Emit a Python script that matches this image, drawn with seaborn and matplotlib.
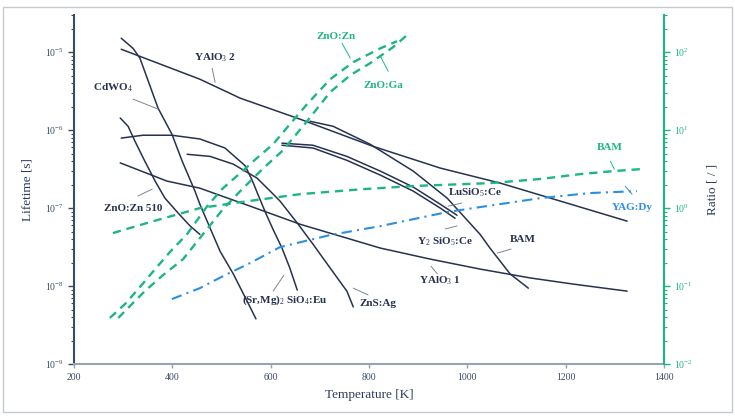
import matplotlib
matplotlib.use("Agg")
import matplotlib.pyplot as plt
import matplotlib.ticker as mticker
import seaborn as sns
import pandas as pd
from matplotlib.patches import Rectangle

# ---------------------------------------------- #
#   DATOS (T en K, tau en s)   #
# ---------------------------------------------- #

# Tiempos de vida (eje izquierdo)
yalo3_2_T = [296, 456, 538, 660, 808, 945, 1067, 1189, 1325]
yalo3_2_tau = [1.09e-5, 4.5e-6, 2.57e-6, 1.38e-6, 6.2e-7, 3.26e-7, 2.09e-7, 1.23e-7, 6.8e-8]

cdwo4_T = [296, 320, 334, 371, 399, 420, 446, 456, 477, 497, 524, 552, 570]
cdwo4_tau = [1.51e-5, 1.12e-5, 8.4e-6, 1.91e-6, 8.9e-7, 4.0e-7, 1.65e-7, 1.12e-7,
             5.5e-8, 2.8e-8, 1.43e-8, 6.4e-9, 3.8e-9]

zno510_T = [294, 310, 324, 344, 365, 385, 412, 436, 456]
zno510_tau = [1.43e-6, 1.12e-6, 7.2e-7, 4.0e-7, 2.22e-7, 1.34e-7, 8.6e-8, 5.9e-8, 4.6e-8]

yalo3_1_T = [294, 389, 456, 558, 660, 823, 924, 1026, 1128, 1215, 1325]
yalo3_1_tau = [3.8e-7, 2.22e-7, 1.8e-7, 1.06e-7, 6.2e-8, 3.07e-8, 2.22e-8, 1.65e-8,
               1.27e-8, 1.06e-8, 8.6e-9]

srmg_T = [296, 340, 399, 456, 507, 548, 562, 576, 590, 605, 623, 639, 654]
srmg_tau = [7.9e-7, 8.6e-7, 8.6e-7, 7.7e-7, 5.9e-7, 3.5e-7, 2.3e-7, 1.4e-7, 8.6e-8,
            5.3e-8, 3.07e-8, 1.7e-8, 8.9e-9]

zns_T = [430, 477, 524, 572, 599, 619, 656, 686, 721, 755, 768]
zns_tau = [4.9e-7, 4.6e-7, 3.66e-7, 2.43e-7, 1.65e-7, 1.23e-7, 6.2e-8, 3.45e-8,
           1.7e-8, 8.6e-9, 5.4e-9]

lusio_T = [623, 686, 755, 823, 890, 945, 979]
lusio_tau = [6.8e-7, 6.4e-7, 4.6e-7, 2.98e-7, 1.86e-7, 1.12e-7, 8.1e-8]

y2sio_T = [623, 686, 755, 823, 890, 945, 975]
y2sio_tau = [6.4e-7, 5.9e-7, 4.1e-7, 2.65e-7, 1.65e-7, 1.0e-7, 7.4e-8]

bam_T = [680, 727, 802, 890, 959, 1026, 1046, 1087, 1124]
bam_tau = [1.3e-6, 1.12e-6, 6.6e-7, 2.98e-7, 1.34e-7, 4.6e-8, 3.07e-8, 1.43e-8, 9.4e-9]

# Cocientes (eje derecho)
znozn_T = [273, 304, 334, 365, 395, 430, 471, 501, 538, 572, 605, 639, 674, 721, 768, 823, 857]
znozn_ratio = [0.039, 0.059, 0.097, 0.165, 0.273, 0.464, 1.06, 1.75, 2.81, 4.38, 6.6,
               11.9, 21.5, 45, 74.5, 112, 138]

znoga_T = [290, 314, 344, 381, 422, 456, 503, 542, 583, 625, 674, 721, 762, 802, 849, 884]
znoga_ratio = [0.039, 0.0555, 0.086, 0.138, 0.222, 0.412, 0.97, 1.75, 3.16, 5.5, 13.0,
               30.7, 50.7, 72, 116, 180]

bam_r_T = [279, 355, 456, 538, 660, 788, 890, 1046, 1148, 1230, 1297, 1352]
bam_ratio = [0.478, 0.662, 1.0, 1.19, 1.51, 1.75, 1.92, 2.09, 2.36, 2.73, 2.98, 3.16]

yag_T = [399, 456, 507, 558, 619, 721, 823, 959, 1026, 1148, 1250, 1345]
yag_ratio = [0.068, 0.094, 0.138, 0.197, 0.316, 0.451, 0.587, 0.889, 1.03, 1.34, 1.56, 1.65]

# ---------------------------------------------- #
#                    ESTILO                       #
# ---------------------------------------------- #
sns.set_style("white")
plt.rcParams["font.family"] = ["Liberation Serif", "DejaVu Serif"]
plt.rcParams["mathtext.fontset"] = "custom"
plt.rcParams["mathtext.rm"] = "Liberation Serif"
plt.rcParams["mathtext.bf"] = "Liberation Serif:bold"

navy = "#26324f"
green = "#1db584"
blue = "#2b8fe3"
leader = "#7d8595"

fig = plt.figure(figsize=(7.35, 4.16), dpi=100)
ax = fig.add_axes([0.1007, 0.125, 0.8027, 0.839])
ax2 = ax.twinx()

# Curvas de tiempo de vida
lifetimes = [
    (yalo3_2_T, yalo3_2_tau), (cdwo4_T, cdwo4_tau), (zno510_T, zno510_tau),
    (yalo3_1_T, yalo3_1_tau), (srmg_T, srmg_tau), (zns_T, zns_tau),
    (lusio_T, lusio_tau), (y2sio_T, y2sio_tau), (bam_T, bam_tau),
]
for T, tau in lifetimes:
    sns.lineplot(x=T, y=tau, ax=ax, color=navy, linewidth=1.1, sort=False)

# Curvas de cociente
for T, r in [(znozn_T, znozn_ratio), (znoga_T, znoga_ratio), (bam_r_T, bam_ratio)]:
    sns.lineplot(x=T, y=r, ax=ax2, color=green, linewidth=1.7, sort=False,
                 linestyle=(0, (3.5, 2.5)))
sns.lineplot(x=yag_T, y=yag_ratio, ax=ax2, color=blue, linewidth=1.5, sort=False,
             linestyle=(0, (5, 2.5, 1, 2.5)))

# Ejes
ax.set_yscale("log")
ax2.set_yscale("log")
ax.set_xlim(200, 1400)
ax.set_ylim(1e-9, 3e-5)
ax2.set_ylim(1e-2, 3e2)
ax.set_xticks([200, 400, 600, 800, 1000, 1200, 1400])
ax.yaxis.set_minor_formatter(mticker.NullFormatter())
ax2.yaxis.set_minor_formatter(mticker.NullFormatter())

for a in (ax, ax2):
    a.spines["top"].set_visible(False)
ax.spines["right"].set_visible(False)
ax2.spines["left"].set_visible(False)
ax2.spines["bottom"].set_visible(False)
ax.spines["left"].set_color("#3b4a68")
ax.spines["bottom"].set_color("#9aa3b3")
ax.spines["left"].set_linewidth(1.5)
ax.spines["bottom"].set_linewidth(1.5)
ax2.spines["right"].set_color(green)
ax2.spines["right"].set_linewidth(1.5)

ax.tick_params(axis="y", which="major", length=4, width=1, color="#3b4a68",
               labelsize=7, labelcolor="#3b4a68", direction="out", left=True)
ax.tick_params(axis="y", which="minor", length=2, width=0.8, color="#3b4a68", left=True)
ax.tick_params(axis="x", length=3, width=1, color="#9aa3b3", labelsize=7,
               labelcolor="#3b4a68", direction="out", bottom=True)
ax2.tick_params(axis="y", which="major", length=4, width=1, color=green,
                labelsize=7, labelcolor=green, direction="out", right=True)
ax2.tick_params(axis="y", which="minor", length=2, width=0.8, color=green, right=True)

ax.set_xlabel("Temperature [K]", fontsize=9.5, color="#2f3d5c", labelpad=5)
ax.set_ylabel("Lifetime [s]", fontsize=9.5, color="#2f3d5c", labelpad=8)
ax2.set_ylabel("Ratio [ / ]", fontsize=9.5, color="#2f3d5c", labelpad=10)

# Etiquetas con líneas guía: (texto, posición, inicio guía, fin guía, colores)
labels = [
    (r"YAlO$_3$ 2", (487, 8.4e-6), (481, 6.2e-6), (487, 4.1e-6), navy, leader),
    (r"CdWO$_4$", (279, 3.56e-6), (320, 2.5e-6), (371, 1.86e-6), navy, leader),
    (r"ZnO:Zn 510", (320, 1.0e-7), (330, 1.43e-7), (359, 1.75e-7), navy, leader),
    (r"(Sr,Mg)$_2$ SiO$_4$:Eu", (629, 6.6e-9), (605, 8.6e-9), (627, 1.38e-8), navy, leader),
    (r"ZnS:Ag", (819, 5.9e-9), (768, 9.4e-9), (798, 7.7e-9), navy, leader),
    (r"Y$_2$ SiO$_5$:Ce", (955, 3.67e-8), (955, 5.4e-8), (979, 5.9e-8), navy, leader),
    (r"YAlO$_3$ 1", (945, 1.16e-8), (926, 1.8e-8), (939, 1.43e-8), navy, leader),
    (r"BAM", (1112, 4.0e-8), (1089, 2.98e-8), (1061, 2.65e-8), navy, leader),
    (r"LuSiO$_5$:Ce", (1016, 1.56e-7), (989, 1.16e-7), (961, 1.06e-7), navy, leader),
    (r"BAM", (1289, 6.05e-7), (1291, 4.0e-7), (1299, 3.16e-7), green, green),
    (r"YAG:Dy", (1335, 1.03e-7), (1321, 1.91e-7), (1335, 1.51e-7), blue, blue),
    (r"ZnO:Zn", (733, 1.6e-5), (745, 1.3e-5), (762, 8.4e-6), green, green),
    (r"ZnO:Ga", (829, 3.78e-6), (823, 8.9e-6), (839, 5.7e-6), green, green),
]
for text, pos, p0, p1, tcolor, lcolor in labels:
    ax.text(pos[0], pos[1], text, color=tcolor, fontsize=8, fontweight="bold",
            ha="center", va="center")
    ax.plot([p0[0], p1[0]], [p0[1], p1[1]], color=lcolor, linewidth=0.7)

# Marco exterior
fig.patches.append(Rectangle((0.004, 0.0096), 0.992, 0.974, transform=fig.transFigure,
                             fill=False, edgecolor="#c5cad3", linewidth=1))

plt.savefig("out.png", dpi=100)
